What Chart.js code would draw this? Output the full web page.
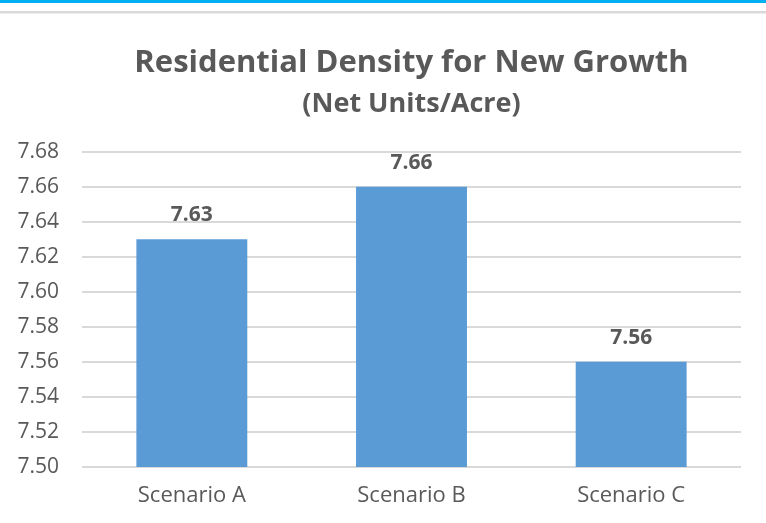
<!DOCTYPE html>
<html>
<head>
<meta charset="utf-8">
<script src="https://cdn.jsdelivr.net/npm/chart.js@4/dist/chart.umd.min.js"></script>
<style>
  html, body { margin: 0; padding: 0; background: #ffffff; }
  #wrap { position: relative; width: 766px; height: 523px; overflow: hidden; }
  #topBlue { position: absolute; left: 0; top: 0; width: 766px; height: 3px; background: #00B0F0; }
  #topGrey { position: absolute; left: 0; top: 11px; width: 766px; height: 2px; background: #D9D9D9; }
  #topGrey2 { position: absolute; left: 0; top: 13px; width: 766px; height: 1px; background: #EDEDED; }
  canvas { position: absolute; left: 0; top: 0; }
</style>
</head>
<body>
<div id="wrap">
  <canvas id="c" width="766" height="523"></canvas>
  <div id="topBlue"></div>
  <div id="topGrey"></div>
  <div id="topGrey2"></div>
</div>
<script>
const categories = ["Scenario A", "Scenario B", "Scenario C"];
const densityValues = [7.63, 7.66, 7.56];
const titleText = "Residential Density for New Growth";
const subtitleText = "(Net Units/Acre)";

const TEXT = "#595959";
const FONT = "'Open Sans', Lato, sans-serif";

const dataLabels = {
  id: "dataLabels",
  afterDatasetsDraw(chart) {
    const ctx = chart.ctx;
    ctx.save();
    ctx.fillStyle = TEXT;
    ctx.font = "bold 21px " + FONT;
    ctx.textAlign = "center";
    ctx.textBaseline = "middle";
    chart.data.datasets.forEach((ds, di) => {
      const meta = chart.getDatasetMeta(di);
      meta.data.forEach((el, i) => {
        ctx.fillText(ds.data[i].toFixed(2), el.x, el.y - 24);
      });
    });
    ctx.restore();
  }
};

new Chart(document.getElementById("c"), {
  type: "bar",
  data: {
    labels: categories,
    datasets: [{
      data: densityValues,
      backgroundColor: "#5B9BD5",
      borderWidth: 0,
      barPercentage: 0.505,
      categoryPercentage: 1.0
    }]
  },
  options: {
    responsive: false,
    animation: false,
    devicePixelRatio: 1,
    layout: { padding: { left: 0, right: 25, top: 0, bottom: 0 } },
    plugins: {
      legend: { display: false },
      tooltip: { enabled: false },
      title: {
        display: true,
        fullSize: false,
        text: titleText,
        color: TEXT,
        font: { family: FONT, size: 31, weight: "bold", lineHeight: 1.2 },
        padding: { top: 45, bottom: 6 }
      },
      subtitle: {
        display: true,
        fullSize: false,
        text: subtitleText,
        color: TEXT,
        font: { family: FONT, size: 27, weight: "bold", lineHeight: 1.2 },
        padding: { top: 0, bottom: 31 }
      }
    },
    scales: {
      x: {
        grid: { display: false, drawTicks: false },
        border: { display: false },
        ticks: { color: TEXT, font: { family: FONT, size: 22 }, padding: 16 },
        afterFit(scale) { scale.height = 56; }
      },
      y: {
        min: 7.50,
        max: 7.68,
        grid: { color: "#D9D9D9", lineWidth: 2, drawTicks: false },
        border: { display: false },
        ticks: {
          stepSize: 0.02,
          color: TEXT,
          font: { family: FONT, size: 21 },
          padding: 23,
          callback: (v) => Number(v).toFixed(2)
        },
        afterFit(scale) { scale.width = 82; }
      }
    }
  },
  plugins: [dataLabels]
});
</script>
</body>
</html>
